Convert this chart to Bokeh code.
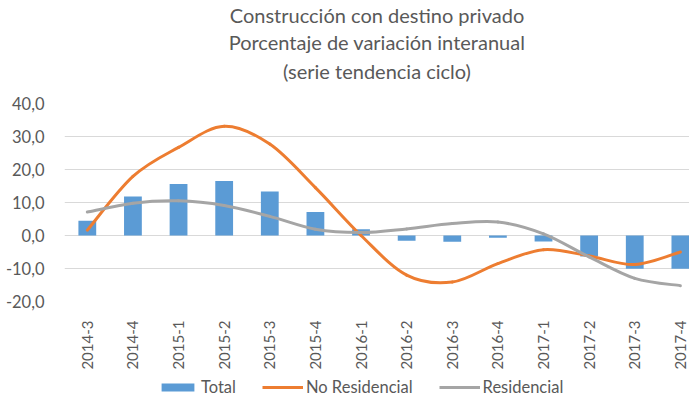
import math
import numpy as np
from bokeh.plotting import figure
from bokeh.layouts import column
from bokeh.models import (Range1d, FixedTicker, CustomJSTickFormatter, Legend, LegendItem,
                          ColumnDataSource, Title)
from bokeh.embed import file_html
from bokeh.resources import INLINE

# ---- data ----
periods = ["2014-3", "2014-4", "2015-1", "2015-2", "2015-3", "2015-4", "2016-1",
           "2016-2", "2016-3", "2016-4", "2017-1", "2017-2", "2017-3", "2017-4"]
total = [4.5, 11.8, 15.6, 16.5, 13.3, 7.1, 1.9, -1.6, -1.9, -0.7, -1.8, -6.4, -10.1, -10.1]
no_residencial = [1.6, 17.9, 26.7, 33.1, 27.7, 14.5, 0.0, -12.0, -14.1, -8.5, -4.3, -6.2, -8.8, -5.0]
residencial = [7.1, 9.8, 10.5, 9.1, 5.8, 1.9, 0.9, 2.0, 3.6, 4.1, 0.5, -6.5, -13.0, -15.2]
series_names = ["Total", "No Residencial", "Residencial"]
y_ticks = [-20, -10, 0, 10, 20, 30, 40]
title_lines = ["Construcción con destino privado",
               "Porcentaje de variación interanual",
               "(serie tendencia ciclo)"]

FONT = "Lato"
GREY_TXT = "#595959"
BLUE, ORANGE, GREY = "#5B9BD5", "#ED7D31", "#A5A5A5"

x = np.arange(len(periods), dtype=float)

p = figure(width=689, height=372, output_backend="svg", toolbar_location=None, title=None,
           x_range=Range1d(-0.5, 13.2), y_range=Range1d(-20, 40),
           min_border_left=64, min_border_right=0, min_border_top=0, min_border_bottom=68)
p.outline_line_color = None
p.background_fill_color = "white"
p.border_fill_color = "white"

# title: stacked Title annotations (the first added sits closest to the frame)
p.add_layout(Title(text=" ", text_font_size="8px", standoff=8), "above")  # spacer
for line, so in zip(reversed(title_lines), [3, 3, 0]):
    p.add_layout(Title(text=line, align="center", text_font=FONT, text_font_size="20px",
                       text_font_style="normal", text_color=GREY_TXT, standoff=so),
                 "above")

# bars
bars = p.vbar(x=x, top=total, bottom=0, width=0.39, fill_color=BLUE, line_color=None)


def smooth(ys):
    ys = np.asarray(ys, dtype=float)
    n = len(ys)
    xp = np.concatenate([[x[0]], x, [x[-1]]])
    yp = np.concatenate([[ys[0]], ys, [ys[-1]]])
    i = np.arange(n - 1)
    x0, y0 = xp[i + 1], yp[i + 1]
    x1, y1 = xp[i + 2], yp[i + 2]
    cx0 = x0 + (xp[i + 2] - xp[i]) / 6.0
    cy0 = y0 + (yp[i + 2] - yp[i]) / 6.0
    cx1 = x1 - (xp[i + 3] - xp[i + 1]) / 6.0
    cy1 = y1 - (yp[i + 3] - yp[i + 1]) / 6.0
    return ColumnDataSource(dict(x0=x0, y0=y0, x1=x1, y1=y1, cx0=cx0, cy0=cy0, cx1=cx1, cy1=cy1))


bz = dict(x0="x0", y0="y0", x1="x1", y1="y1", cx0="cx0", cy0="cy0", cx1="cx1", cy1="cy1")
p.bezier(source=smooth(no_residencial), line_color=ORANGE, line_width=3, line_cap="round", **bz)
p.bezier(source=smooth(residencial), line_color=GREY, line_width=3, line_cap="round", **bz)

# axes
p.yaxis.ticker = FixedTicker(ticks=y_ticks)
p.yaxis.formatter = CustomJSTickFormatter(code="return tick.toFixed(1).replace('.', ',');")
p.yaxis.axis_line_color = None
p.yaxis.major_tick_line_color = None
p.yaxis.minor_tick_line_color = None
p.yaxis.major_label_text_font = FONT
p.yaxis.major_label_text_font_size = "16.5px"
p.yaxis.major_label_text_color = GREY_TXT
p.yaxis.major_label_standoff = 14

p.xaxis.ticker = FixedTicker(ticks=list(range(len(periods))))
p.xaxis.major_label_overrides = {i: s for i, s in enumerate(periods)}
p.xaxis.major_label_orientation = math.pi / 2
p.xaxis.axis_line_color = None
p.xaxis.major_tick_line_color = None
p.xaxis.minor_tick_line_color = None
p.xaxis.major_label_text_font = FONT
p.xaxis.major_label_text_font_size = "15px"
p.xaxis.major_label_text_color = GREY_TXT
p.xaxis.major_label_standoff = 13

p.xgrid.grid_line_color = None
p.ygrid.ticker = FixedTicker(ticks=y_ticks)
p.ygrid.grid_line_color = "#D9D9D9"
p.ygrid.grid_line_width = 1

# legend strip below the chart (proxy renderers kept outside its visible range)
lg = figure(width=689, height=26, output_backend="svg", toolbar_location=None, title=None,
            x_axis_location=None, y_axis_location=None,
            x_range=Range1d(-0.5, 13.2), y_range=Range1d(1000, 1001),
            min_border_left=0, min_border_right=0, min_border_top=0, min_border_bottom=0)
lg.grid.visible = False
lg.outline_line_color = None
lg_bar = lg.vbar(x=x, top=total, bottom=0, width=0.39, fill_color=BLUE, line_color=None)
lg_or = lg.line(x=x, y=no_residencial, line_color=ORANGE, line_width=3)
lg_gr = lg.line(x=x, y=residencial, line_color=GREY, line_width=3)
legend = Legend(items=[LegendItem(label=n, renderers=[r])
                       for n, r in zip(series_names, [lg_bar, lg_or, lg_gr])],
                orientation="horizontal", location=(93, 1),
                glyph_width=41, glyph_height=10, label_standoff=3, spacing=26,
                label_text_font=FONT, label_text_font_size="16.5px", label_text_color=GREY_TXT,
                border_line_color=None, background_fill_alpha=0, margin=0, padding=0)
lg.add_layout(legend, "center")

layout = column(p, lg, spacing=0)
open("out.html", "w").write(file_html(layout, INLINE))
